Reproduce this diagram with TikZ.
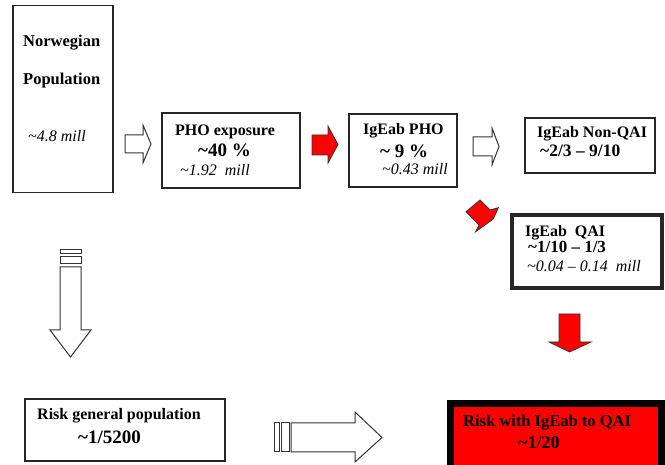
\documentclass[tikz,border=0pt]{standalone}
\usepackage{fontspec}
\setmainfont{Liberation Serif}
\newcommand{\fs}[1]{\fontsize{#1}{#1}\selectfont}
\newcommand{\tl}{\textasciitilde}
\begin{document}
\begin{tikzpicture}[x=1pt,y=-1pt,
  box/.style={draw=black!85, line width=1.3pt, fill=white, inner sep=0pt},
  lbl/.style={anchor=base west, inner sep=0pt, font=\fs{16}\bfseries},
  big/.style={anchor=base west, inner sep=0pt, font=\fs{19}\bfseries},
  itl/.style={anchor=base west, inner sep=0pt, font=\fs{16}\itshape},
  warr/.style={draw=black!80, line width=1pt, fill=white, line join=miter},
  rarr/.style={draw=black!80, line width=0.8pt, fill=red, line join=miter}]
\useasboundingbox (0,0) rectangle (665,465);

% boxes
\node[box, minimum width=100pt, minimum height=187pt] (nor) at (63,99) {};
\node[box, minimum width=138pt, minimum height=75pt] (pho) at (231,150.5) {};
\node[box, line width=2.6pt, minimum width=108pt, minimum height=73pt] (igp) at (403,150.5) {};
\node[box, minimum width=130pt, minimum height=55pt] (non) at (590,145.5) {};
\node[box, line width=4pt, minimum width=150pt, minimum height=73pt] (qai) at (586.5,252) {};
\node[box, minimum width=200pt, minimum height=62pt] (gen) at (125,430) {};
\node[box, draw=black, fill=red, line width=6.5pt, minimum width=211pt, minimum height=67pt] (rsk) at (556,437) {};

% texts
\node[lbl, font=\fs{16.5}\bfseries] (t1) at (23,46.5) {Norwegian};
\node[lbl, font=\fs{16.5}\bfseries] (t2) at (23,85) {Population};
\node[itl] (t3) at (28,141.5) {\tl4.8 mill};

\node[lbl] (t4) at (175,136) {PHO exposure};
\node[big] (t5) at (198,156.5) {\tl40 \%};
\node[itl] (t6) at (180,176) {\tl1.92\hspace{8pt}mill};

\node[lbl] (t7) at (363,135) {IgEab PHO};
\node[big] (t8) at (380,158) {\tl\ 9 \%};
\node[itl] (t9) at (382,175) {\tl0.43 mill};

\node[lbl] (t10) at (537,138) {IgEab Non-QAI};
\node[lbl, font=\fs{17.5}\bfseries] (t11) at (540,157) {\tl2/3 -- 9/10};

\node[lbl] (t12) at (525,237) {IgEab\ \ QAI};
\node[lbl, font=\fs{17}\bfseries] (t13) at (528,253) {\tl1/10 -- 1/3};
\node[itl] (t14) at (527,272) {\tl0.04 -- 0.14\ \ mill};

\node[lbl] (t15) at (37,420) {Risk general population};
\node[big] (t16) at (78,443) {\tl1/5200};

\node[lbl, font=\fs{16.5}\bfseries] (t17) at (463,427) {Risk with IgEab to QAI};
\node[big, font=\fs{18}\bfseries] (t18) at (518,449) {\tl1/20};

% block arrows
\draw[warr] (125,135) -- (143,135) -- (143,125) -- (151,144) -- (143,163) -- (143,153) -- (125,153) -- cycle;
\draw[rarr] (312,135) -- (328,135) -- (328,126) -- (338,144.5) -- (328,163) -- (328,155) -- (312,155) -- cycle;
\draw[warr] (473,137) -- (492,137) -- (492,128) -- (499,146.5) -- (492,165) -- (492,156) -- (473,156) -- cycle;
\draw[rarr] (466,211.7) -- (480,200) -- (490,210) -- (498.3,207.7) -- (493.3,219) -- (475.7,231.7) -- (479,225) -- cycle;
\draw[rarr] (559,314) -- (580,314) -- (580,342) -- (591,342) -- (569.5,352) -- (549,342) -- (559,342) -- cycle;

% left down arrow
\draw[warr] (60,250) rectangle (81,254);
\draw[warr] (60,257) rectangle (81,264);
\draw[warr] (60,267) -- (81,267) -- (81,330) -- (91,330) -- (70.5,357) -- (50,330) -- (60,330) -- cycle;

% bottom right arrow
\draw[warr] (274,423) rectangle (279,452);
\draw[warr] (281,423) rectangle (289,452);
\draw[warr] (291,423) -- (355,423) -- (355,412) -- (382,437.5) -- (355,462) -- (355,452) -- (291,452) -- cycle;
\end{tikzpicture}
\end{document}
